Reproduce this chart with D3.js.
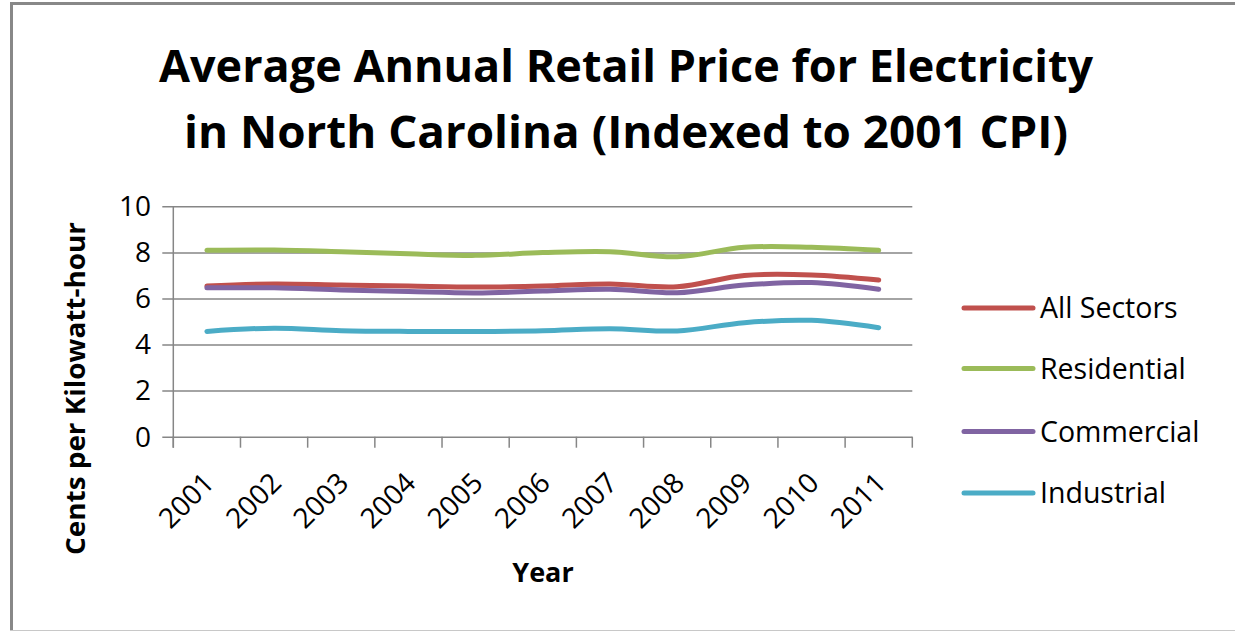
<!DOCTYPE html>
<html>
<head>
<meta charset="utf-8">
<script src="https://cdn.jsdelivr.net/npm/d3@7"></script>
<style>
  html, body { margin: 0; padding: 0; background: #fff; }
  svg { display: block; }
  text { font-family: "Open Sans", "Noto Sans", sans-serif; fill: #000; }
</style>
</head>
<body>
<svg id="chart" width="1235" height="631"></svg>
<script>
// Average retail electricity price, North Carolina, cents/kWh (2001 dollars)
const years = ["2001", "2002", "2003", "2004", "2005", "2006", "2007", "2008", "2009", "2010", "2011"];
const allSectors  = [6.54, 6.63, 6.58, 6.54, 6.50, 6.54, 6.63, 6.51, 7.00, 7.02, 6.80];
const residential = [8.09, 8.10, 8.03, 7.94, 7.87, 7.99, 8.03, 7.81, 8.22, 8.22, 8.09];
const commercial  = [6.46, 6.46, 6.37, 6.30, 6.24, 6.32, 6.40, 6.25, 6.58, 6.69, 6.40];
const industrial  = [4.57, 4.71, 4.60, 4.57, 4.57, 4.60, 4.69, 4.59, 4.95, 5.05, 4.73];
const seriesNames = ["All Sectors", "Residential", "Commercial", "Industrial"];
const seriesColors = ["#C0504D", "#9BBB59", "#8064A2", "#4BACC6"];
const yTicks = [0, 2, 4, 6, 8, 10];

const series = [allSectors, residential, commercial, industrial].map((vals, i) => ({
  name: seriesNames[i], color: seriesColors[i],
  points: vals.map((v, j) => ({ year: years[j], value: v }))
}));

const svg = d3.select("#chart");
const W = 1235, H = 631;

// frame
svg.append("rect").attr("x", 0).attr("y", 0).attr("width", W).attr("height", H).attr("fill", "#fff");
svg.append("line").attr("x1", 11.5).attr("x2", W).attr("y1", 3.5).attr("y2", 3.5)
  .attr("stroke", "#888").attr("stroke-width", 3);
svg.append("line").attr("x1", 11.5).attr("x2", 11.5).attr("y1", 2).attr("y2", H)
  .attr("stroke", "#888").attr("stroke-width", 3);
svg.append("line").attr("x1", 10).attr("x2", W).attr("y1", 630.5).attr("y2", 630.5)
  .attr("stroke", "#c8c8c8").attr("stroke-width", 1);

// title
const title = svg.append("g").attr("font-weight", "bold").attr("font-size", 45).attr("text-anchor", "middle");
title.append("text").attr("x", 626).attr("y", 82)
  .attr("textLength", 934).attr("lengthAdjust", "spacingAndGlyphs")
  .text("Average Annual Retail Price for Electricity");
title.append("text").attr("x", 626).attr("y", 148)
  .attr("textLength", 884).attr("lengthAdjust", "spacingAndGlyphs")
  .text("in North Carolina (Indexed to 2001 CPI)");

// plot area
const plot = { left: 173.3, right: 912.3, top: 206.3, bottom: 436.7 };
const x = d3.scaleBand().domain(years).range([plot.left, plot.right]);
const y = d3.scaleLinear().domain([0, 10]).range([plot.bottom, plot.top]);

const axisColor = "#868686";

// horizontal gridlines + y ticks
const yAxis = d3.axisLeft(y).tickValues(yTicks).tickSize(plot.right - plot.left + 11).tickFormat(d3.format("d"));
const gy = svg.append("g").attr("transform", `translate(${plot.right},0)`).call(yAxis);
gy.select(".domain").remove();
gy.selectAll(".tick line").attr("stroke", axisColor).attr("stroke-width", 1.5);
gy.selectAll(".tick text").remove();

// y tick labels
svg.append("g").selectAll("text").data(yTicks).join("text")
  .attr("x", 151).attr("y", d => y(d)).attr("dy", "0.35em")
  .attr("text-anchor", "end").attr("font-size", 28)
  .text(d => d);

// vertical axis line
svg.append("line").attr("x1", plot.left).attr("x2", plot.left)
  .attr("y1", plot.top).attr("y2", plot.bottom + 11)
  .attr("stroke", axisColor).attr("stroke-width", 1.5);

// x axis with tick marks at band boundaries
const xAxis = d3.axisBottom(x).tickSize(0).tickFormat("");
const gx = svg.append("g").attr("transform", `translate(0,${plot.bottom})`).call(xAxis);
gx.select(".domain").remove();
gx.selectAll(".tick").remove();
const bounds = years.map(d => x(d)).concat([x(years[years.length - 1]) + x.bandwidth()]);
svg.append("g").selectAll("line").data(bounds).join("line")
  .attr("x1", d => d).attr("x2", d => d)
  .attr("y1", plot.bottom).attr("y2", plot.bottom + 11)
  .attr("stroke", axisColor).attr("stroke-width", 1.5);

// rotated year labels
svg.append("g").selectAll("text").data(years).join("text")
  .attr("text-anchor", "end").attr("font-size", 28)
  .attr("transform", d => `translate(${x(d) + x.bandwidth() / 2 + 9},${plot.bottom + 48}) rotate(-45)`)
  .text(d => d);

// axis titles
svg.append("text").attr("x", 543).attr("y", 582).attr("text-anchor", "middle")
  .attr("font-weight", "bold").attr("font-size", 27).text("Year");
svg.append("text").attr("transform", "translate(85,388.5) rotate(-90)")
  .attr("text-anchor", "middle").attr("font-weight", "bold").attr("font-size", 26)
  .attr("textLength", 333).attr("lengthAdjust", "spacingAndGlyphs")
  .text("Cents per Kilowatt-hour");

// series lines
const line = d3.line()
  .x(d => x(d.year) + x.bandwidth() / 2)
  .y(d => y(d.value))
  .curve(d3.curveCatmullRom.alpha(0.5));

svg.append("g").selectAll("path").data(series).join("path")
  .attr("d", d => line(d.points))
  .attr("fill", "none").attr("stroke", d => d.color)
  .attr("stroke-width", 5).attr("stroke-linecap", "round").attr("stroke-linejoin", "round");

// legend
const legendY = [308, 368.5, 431.5, 493];
const legend = svg.append("g").selectAll("g").data(series).join("g")
  .attr("transform", (d, i) => `translate(0,${legendY[i]})`);
legend.append("line").attr("x1", 964).attr("x2", 1033).attr("y1", 0).attr("y2", 0)
  .attr("stroke", d => d.color).attr("stroke-width", 5).attr("stroke-linecap", "round");
legend.append("text").attr("x", 1040).attr("y", 0).attr("dy", "0.36em")
  .attr("font-size", 28.5).text(d => d.name);
</script>
</body>
</html>
